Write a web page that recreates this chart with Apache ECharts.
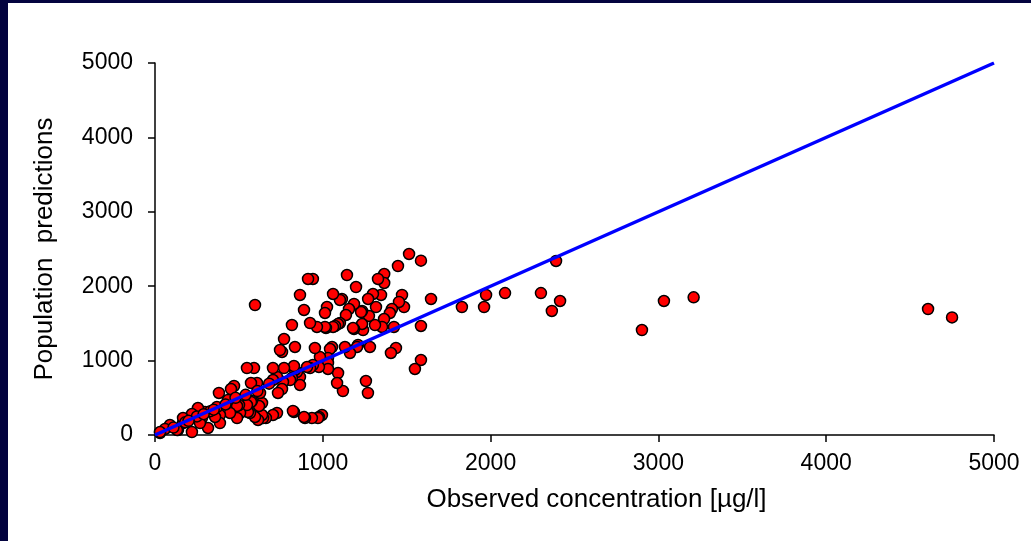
<!DOCTYPE html>
<html>
<head>
<meta charset="utf-8">
<script src="https://cdn.jsdelivr.net/npm/echarts@6/dist/echarts.min.js"></script>
<style>
html,body{margin:0;padding:0;background:#fff;}
#chart{width:1031px;height:541px;}
</style>
</head>
<body>
<div id="chart"></div>
<script>
// Observed concentration [µg/l]
const obsX = [4607,4750,3210,3033,2902,2414,2390,2365,2300,2086,1973,1961,1829,1645,1585,1585,1585,1549,1514,1448,
1484,1472,1454,1436,1424,1412,1406,1400,1366,1366,1365,1353,1347,1329,1317,1311,1299,1281,1275,1270,
1269,1257,1240,1234,1234,1228,1210,1204,1198,1186,1186,1180,1162,1156,1144,1138,1132,1120,1114,1102,
1102,1091,1091,1085,1073,1061,1061,1055,1043,1031,1031,1031,1025,1019,1013,1013,995,983,977,977,
971,965,953,941,941,935,924,924,912,906,894,888,888,864,864,864,846,834,834,828,
828,822,816,816,805,769,769,763,757,757,745,733,727,727,703,703,703,661,644,638,
638,626,620,614,608,596,596,590,578,572,572,566,554,548,548,507,501,489,489,471,
453,447,435,387,387,381,369,358,316,298,280,268,256,220,220,167,167,137,131,89,
60,30,30,540,610,680,420,330,250,180,480,110,200,290,350];
// Population predictions
const predY = [1693,1580,1850,1801,1411,1801,2339,1667,1908,1908,1882,1720,1720,1828,2343,1465,1008,887,2433,2271,
1720,1882,1788,1169,1452,1693,1102,1640,2164,2043,1559,1452,1882,2097,1720,1478,1895,1183,1600,1828,
565,726,1411,1667,1492,1653,1210,1183,1989,1761,1425,1438,1102,1693,2150,1613,1183,591,1828,1505,
1815,1492,833,699,1465,1895,1452,1183,1156,1035,968,887,1720,1438,1640,1452,269,1048,914,242,
228,1452,1169,2097,941,228,1505,900,2097,914,228,1680,242,1882,780,672,847,1183,874,927,
309,323,1478,766,739,1290,900,712,1116,618,1142,565,780,296,900,739,269,228,228,430,
269,565,390,202,699,1747,242,900,457,699,444,296,309,900,403,296,403,390,228,659,
618,296,470,269,161,565,376,242,94,309,228,161,363,282,40,161,228,67,67,134,
81,27,40,540,590,690,410,320,250,170,500,100,190,280,340];
// identity line
const lineX = [0,5000];
const lineY = [0,5000];
const ticks = [0,1000,2000,3000,4000,5000];

const pts = obsX.map((x,i)=>[x,predY[i]]);
const linePts = lineX.map((x,i)=>[x,lineY[i]]);

const chart = echarts.init(document.getElementById('chart'));
const font = 'Liberation Sans, Arial, sans-serif';
const axisCommon = {
  type:'value', min:ticks[0], max:ticks[ticks.length-1], interval:1000,
  splitLine:{show:false},
  axisLine:{show:true, lineStyle:{color:'#000', width:1.5}},
  axisTick:{show:true, inside:false, length:7, lineStyle:{color:'#000', width:1.5}},
  axisLabel:{color:'#000', fontSize:23, fontFamily:font, formatter:(v)=>String(v)},
  nameTextStyle:{color:'#000', fontSize:26, fontFamily:font},
  nameLocation:'middle'
};
chart.setOption({
  backgroundColor:'#fff',
  animation:false,
  graphic:[
    {type:'rect', left:0, top:0, shape:{width:8, height:541}, style:{fill:'#03033f'}},
    {type:'rect', left:0, top:0, shape:{width:1031, height:3}, style:{fill:'#03033f'}}
  ],
  grid:{left:155, right:37, top:63, bottom:106},
  xAxis:Object.assign({}, axisCommon, {
    name:'Observed concentration [µg/l]', nameGap:52,
    nameTextStyle:Object.assign({}, axisCommon.nameTextStyle, {padding:[0,0,0,44]}),
    axisLabel:Object.assign({}, axisCommon.axisLabel, {margin:17})
  }),
  yAxis:Object.assign({}, axisCommon, {
    name:'Population  predictions', nameGap:97,
    axisLabel:Object.assign({}, axisCommon.axisLabel, {margin:22})
  }),
  series:[
    {type:'scatter', data:pts, symbolSize:11, z:2,
     itemStyle:{color:'#ff0000', borderColor:'#000', borderWidth:1.5, opacity:1}},
    {type:'line', data:linePts, symbol:'none', z:3,
     lineStyle:{color:'#0000ff', width:3.5}}
  ]
});
</script>
</body>
</html>
